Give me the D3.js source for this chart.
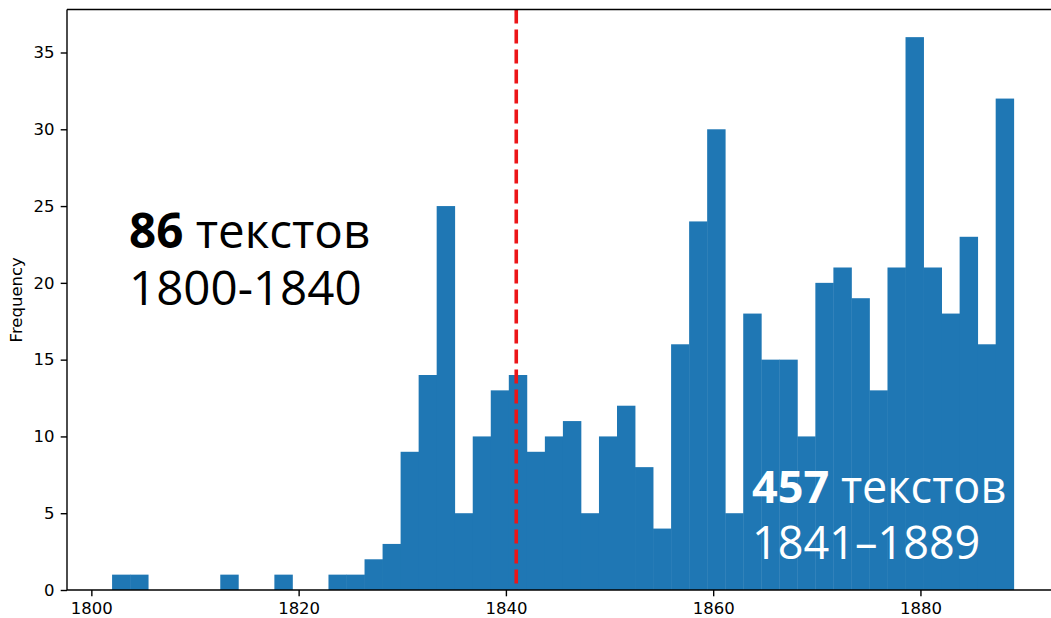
<!DOCTYPE html>
<html>
<head>
<meta charset="utf-8">
<script src="https://cdn.jsdelivr.net/npm/d3@7"></script>
<style>
  html, body { margin: 0; padding: 0; background: #fff; }
  svg { display: block; }
</style>
</head>
<body>
<svg id="chart" width="1051" height="618"></svg>
<script>
// ---- data ----
const binRange = [1802, 1889];          // histogram range (years)
const binCount = 50;                     // number of bins
const counts = [
  1, 1, 0, 0, 0, 0, 1, 0, 0, 1,
  0, 0, 1, 1, 2, 3, 9, 14, 25, 5,
  10, 13, 14, 9, 10, 11, 5, 10, 12, 8,
  4, 16, 24, 30, 5, 18, 15, 15, 10, 20,
  21, 19, 13, 21, 36, 21, 18, 23, 16, 32
];
const xTicks = [1800, 1820, 1840, 1860, 1880];
const yTicks = [0, 5, 10, 15, 20, 25, 30, 35];
const splitYear = 1841;
const yLabel = "Frequency";
const leftNote = { num: "86", word: " текстов", range: "1800-1840" };
const rightNote = { num: "457", word: " текстов", range: "1841–1889" };

// ---- layout ----
const svg = d3.select("#chart");
const W = 1051, H = 618;
const plot = { left: 67, right: 1058.8, top: 9.5, bottom: 590 };

const pad = (binRange[1] - binRange[0]) * 0.05;
const x = d3.scaleLinear()
  .domain([binRange[0] - pad, binRange[1] + pad])
  .range([plot.left, plot.right]);
const maxC = d3.max(counts);
const y = d3.scaleLinear()
  .domain([0, maxC * 1.05])
  .range([plot.bottom, plot.top]);

const step = (binRange[1] - binRange[0]) / binCount;
const bins = counts.map((c, i) => ({
  x0: binRange[0] + i * step,
  x1: binRange[0] + (i + 1) * step,
  c
}));

const defs = svg.append("defs");
defs.append("clipPath").attr("id", "clip")
  .append("rect").attr("x", plot.left).attr("y", 0)
  .attr("width", W - plot.left).attr("height", plot.bottom);

const g = svg.append("g").attr("clip-path", "url(#clip)");

g.selectAll("rect.bar").data(bins.filter(d => d.c > 0)).enter()
  .append("rect").attr("class", "bar")
  .attr("x", d => x(d.x0))
  .attr("width", d => x(d.x1) - x(d.x0) + 0.4)
  .attr("y", d => y(d.c))
  .attr("height", d => y(0) - y(d.c))
  .attr("fill", "#1f77b4");

// split line
g.append("line")
  .attr("x1", x(splitYear)).attr("x2", x(splitYear))
  .attr("y1", plot.top).attr("y2", plot.bottom)
  .attr("stroke", "#ec1518")
  .attr("stroke-width", 3.6)
  .attr("stroke-dasharray", "14,6");

// annotations
const fontAnn = "'Open Sans', 'Noto Sans', sans-serif";
function note(n, xx, yy, fill, size, lh) {
  const t = svg.append("text")
    .attr("x", xx).attr("y", yy)
    .attr("font-family", fontAnn)
    .attr("font-size", size)
    .attr("fill", fill);
  t.append("tspan").attr("font-weight", "bold").text(n.num);
  t.append("tspan").text(n.word);
  svg.append("text")
    .attr("x", xx).attr("y", yy + lh)
    .attr("font-family", fontAnn)
    .attr("font-size", size)
    .attr("fill", fill)
    .text(n.range);
}
note(leftNote, 129, 248, "#000", 47.5, 57);
note(rightNote, 752, 503, "#fff", 45, 56);

// axes
const tickFont = "'DejaVu Sans', sans-serif";
const xAxis = d3.axisBottom(x).tickValues(xTicks).tickFormat(d3.format("d"))
  .tickSize(6.3).tickPadding(6.3);
const yAxis = d3.axisLeft(y).tickValues(yTicks).tickFormat(d3.format("d"))
  .tickSize(6.3).tickPadding(6.3);

const gx = svg.append("g").attr("transform", `translate(0,${plot.bottom})`).call(xAxis);
const gy = svg.append("g").attr("transform", `translate(${plot.left},0)`).call(yAxis);
[gx, gy].forEach(a => {
  a.select(".domain").remove();
  a.selectAll(".tick line").attr("stroke", "#000").attr("stroke-width", 1.4);
  a.selectAll(".tick text").attr("font-family", tickFont).attr("font-size", 16.5).attr("fill", "#000");
});

// spines
const spine = { stroke: "#000", "stroke-width": 1.4 };
function sp(x1, y1, x2, y2) {
  const l = svg.append("line").attr("x1", x1).attr("y1", y1).attr("x2", x2).attr("y2", y2);
  Object.entries(spine).forEach(([k, v]) => l.attr(k, v));
}
sp(plot.left, plot.top, plot.left, plot.bottom);
sp(plot.left, plot.bottom, W + 5, plot.bottom);
sp(plot.left, plot.top, W + 5, plot.top);
sp(plot.right, plot.top, plot.right, plot.bottom);

// y label
svg.append("text")
  .attr("transform", `translate(22,${(plot.top + plot.bottom) / 2}) rotate(-90)`)
  .attr("text-anchor", "middle")
  .attr("font-family", tickFont)
  .attr("font-size", 16.5)
  .attr("fill", "#000")
  .text(yLabel);
</script>
</body>
</html>
